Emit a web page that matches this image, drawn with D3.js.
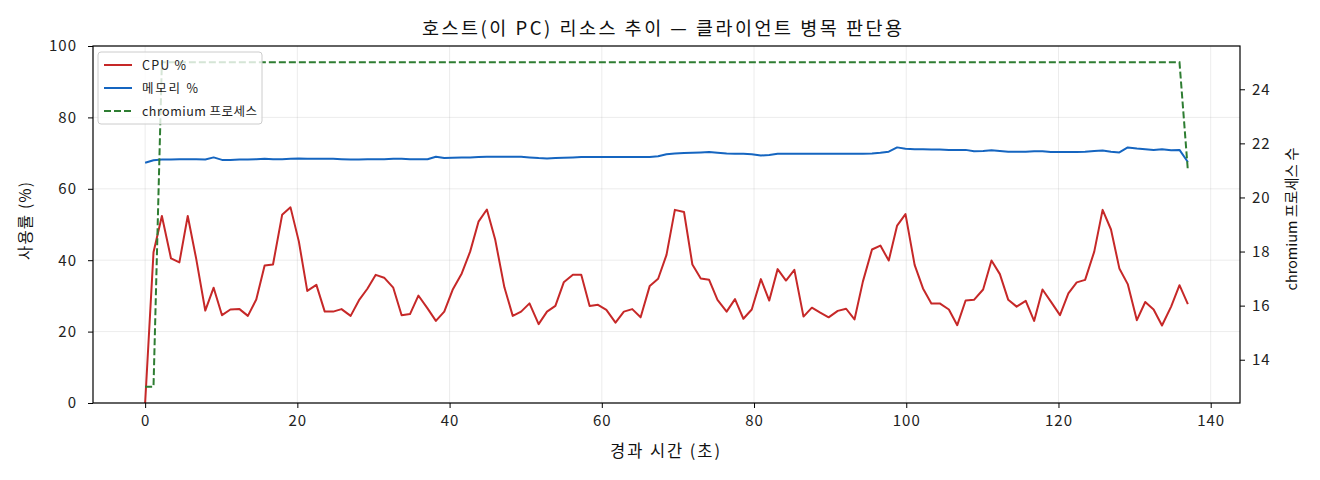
<!DOCTYPE html>
<html>
<head>
<meta charset="utf-8">
<script src="https://cdn.jsdelivr.net/npm/d3@7"></script>
<style>
  html, body { margin: 0; padding: 0; background: #fff; }
  svg { display: block; font-family: "Noto Sans CJK KR", "Noto Sans", sans-serif; }
</style>
</head>
<body>
<svg id="chart" width="1320" height="480"></svg>
<script>
// ---- data ----
const timeSec = [0,1.1,2.2,3.4,4.5,5.6,6.7,7.9,9.0,10.1,11.2,12.4,13.5,14.6,15.7,16.8,18.0,19.1,20.2,21.3,22.5,23.6,24.7,25.8,27.0,28.1,29.2,30.3,31.4,32.6,33.7,34.8,35.9,37.1,38.2,39.3,40.4,41.6,42.7,43.8,44.9,46.0,47.2,48.3,49.4,50.5,51.7,52.8,53.9,55.0,56.2,57.3,58.4,59.5,60.6,61.8,62.9,64.0,65.1,66.3,67.4,68.5,69.6,70.8,71.9,73.0,74.1,75.2,76.4,77.5,78.6,79.7,80.9,82.0,83.1,84.2,85.3,86.5,87.6,88.7,89.8,91.0,92.1,93.2,94.3,95.5,96.6,97.7,98.8,99.9,101.1,102.2,103.3,104.4,105.6,106.7,107.8,108.9,110.1,111.2,112.3,113.4,114.5,115.7,116.8,117.9,119.0,120.2,121.3,122.4,123.5,124.7,125.8,126.9,128.0,129.1,130.3,131.4,132.5,133.6,134.8,135.9,137.0];

const cpuPct = [
  0, 42.2, 52.4, 40.5, 39.4, 52.4, 40.5, 25.9, 32.3, 24.6,
  26.2, 26.3, 24.4, 29.0, 38.5, 38.8, 52.7, 54.8, 45.2, 31.4,
  33.1, 25.6, 25.6, 26.3, 24.4, 28.8, 32.0, 35.9, 35.1, 32.3,
  24.6, 24.9, 30.1, 26.5, 23.0, 25.6, 31.7, 36.3, 42.4, 50.8,
  54.2, 45.7, 32.4, 24.4, 25.6, 27.9, 22.1, 25.6, 27.2, 33.8,
  35.9, 35.9, 27.2, 27.5, 26.1, 22.5, 25.6, 26.3, 24.0, 32.8,
  34.8, 41.5, 54.1, 53.5, 38.8, 34.9, 34.5, 28.9, 25.6, 29.1,
  23.6, 26.2, 34.7, 28.7, 37.5, 34.3, 37.3, 24.2, 26.7, 25.3,
  24.0, 25.8, 26.4, 23.4, 34.0, 43.0, 44.1, 39.9, 49.7, 52.9,
  38.7, 32.1, 27.9, 27.9, 26.2, 21.8, 28.7, 28.9, 31.8, 39.9,
  36.1, 28.9, 27.0, 28.6, 23.0, 31.8, 28.4, 24.6, 30.7, 33.8,
  34.5, 42.4, 54.1, 48.6, 37.7, 33.3, 23.2, 28.3, 26.2, 21.7,
  27.0, 33.0, 27.7
];

const memPct = [
  67.3, 68.0, 68.2, 68.2, 68.3, 68.3, 68.3, 68.2, 68.8, 68.1,
  68.1, 68.2, 68.2, 68.3, 68.4, 68.3, 68.3, 68.4, 68.5, 68.4,
  68.4, 68.4, 68.4, 68.3, 68.2, 68.2, 68.3, 68.3, 68.3, 68.4,
  68.4, 68.3, 68.3, 68.3, 69.0, 68.6, 68.7, 68.8, 68.8, 68.9,
  69.0, 69.0, 69.0, 69.0, 69.0, 68.8, 68.6, 68.5, 68.6, 68.7,
  68.8, 68.9, 68.9, 68.9, 68.9, 68.9, 68.9, 68.9, 68.9, 68.9,
  69.1, 69.7, 69.9, 70.0, 70.1, 70.2, 70.3, 70.1, 69.9, 69.8,
  69.8, 69.7, 69.3, 69.5, 69.8, 69.8, 69.8, 69.8, 69.8, 69.8,
  69.8, 69.8, 69.8, 69.8, 69.8, 69.9, 70.1, 70.4, 71.6, 71.2,
  71.1, 71.1, 71.0, 71.0, 70.9, 70.9, 70.9, 70.5, 70.6, 70.8,
  70.6, 70.4, 70.4, 70.4, 70.5, 70.5, 70.3, 70.3, 70.3, 70.3,
  70.4, 70.6, 70.7, 70.4, 70.2, 71.6, 71.3, 71.1, 70.9, 71.1,
  70.8, 70.9, 67.5
];

const chromiumProcs = [
  13, 13, 25, 25, 25, 25, 25, 25, 25, 25,
  25, 25, 25, 25, 25, 25, 25, 25, 25, 25,
  25, 25, 25, 25, 25, 25, 25, 25, 25, 25,
  25, 25, 25, 25, 25, 25, 25, 25, 25, 25,
  25, 25, 25, 25, 25, 25, 25, 25, 25, 25,
  25, 25, 25, 25, 25, 25, 25, 25, 25, 25,
  25, 25, 25, 25, 25, 25, 25, 25, 25, 25,
  25, 25, 25, 25, 25, 25, 25, 25, 25, 25,
  25, 25, 25, 25, 25, 25, 25, 25, 25, 25,
  25, 25, 25, 25, 25, 25, 25, 25, 25, 25,
  25, 25, 25, 25, 25, 25, 25, 25, 25, 25,
  25, 25, 25, 25, 25, 25, 25, 25, 25, 25,
  25, 25, 21
];

const xTicks = [0, 20, 40, 60, 80, 100, 120, 140];
const yLeftTicks = [0, 20, 40, 60, 80, 100];
const yRightTicks = [14, 16, 18, 20, 22, 24];

const seriesNames = ["CPU %", "메모리 %", "chromium 프로세스"];
const titleText = "호스트(이 PC) 리소스 추이 — 클라이언트 병목 판단용";
const xLabelText = "경과 시간 (초)";
const yLeftLabelText = "사용률 (%)";
const yRightLabelText = "chromium 프로세스 수";

// ---- layout ----
const L = 93, R = 1240, T = 46, B = 403;
const svg = d3.select("#chart");

const x = d3.scaleLinear().domain([-6.85, 143.85]).range([L, R]);
const yL = d3.scaleLinear().domain([0, 100]).range([B, T]);
const yR = d3.scaleLinear().domain([12.4, 25.6]).range([B, T]);

const colCpu = "#c62828", colMem = "#1565c0", colChr = "#2e7d32";

// grid
const grid = svg.append("g");
grid.selectAll(".gx").data(xTicks).join("line")
  .attr("x1", d => x(d)).attr("x2", d => x(d)).attr("y1", T).attr("y2", B)
  .attr("stroke", "#b0b0b0").attr("stroke-opacity", 0.3).attr("stroke-width", 0.8);
grid.selectAll(".gy").data(yLeftTicks).join("line")
  .attr("x1", L).attr("x2", R).attr("y1", d => yL(d)).attr("y2", d => yL(d))
  .attr("stroke", "#b0b0b0").attr("stroke-opacity", 0.3).attr("stroke-width", 0.8);

// lines
const lineLeft = d3.line().x((d, i) => x(timeSec[i])).y(d => yL(d));
const lineRight = d3.line().x((d, i) => x(timeSec[i])).y(d => yR(d));

svg.append("path").datum(cpuPct).attr("d", lineLeft)
  .attr("fill", "none").attr("stroke", colCpu).attr("stroke-width", 2).attr("stroke-linejoin", "round");
svg.append("path").datum(memPct).attr("d", lineLeft)
  .attr("fill", "none").attr("stroke", colMem).attr("stroke-width", 2).attr("stroke-linejoin", "round");
svg.append("path").datum(chromiumProcs).attr("d", lineRight)
  .attr("fill", "none").attr("stroke", colChr).attr("stroke-width", 2).attr("stroke-dasharray", "7,3");

// axes
const tickFont = 15;
const ax = svg.append("g").attr("transform", `translate(0,${B})`)
  .call(d3.axisBottom(x).tickValues(xTicks).tickSize(5).tickPadding(5).tickFormat(d3.format("d")));
const ayL = svg.append("g").attr("transform", `translate(${L},0)`)
  .call(d3.axisLeft(yL).tickValues(yLeftTicks).tickSize(5).tickPadding(11).tickFormat(d3.format("d")));
const ayR = svg.append("g").attr("transform", `translate(${R},0)`)
  .call(d3.axisRight(yR).tickValues(yRightTicks).tickSize(5).tickPadding(7).tickFormat(d3.format("d")));
[ax, ayL, ayR].forEach(g => {
  g.select(".domain").remove();
  g.selectAll(".tick line").attr("stroke", "#000").attr("stroke-width", 1);
  g.selectAll(".tick text").attr("font-size", tickFont).attr("fill", "#222")
    .attr("letter-spacing", "1px")
    .attr("font-family", "'Noto Sans CJK KR', sans-serif");
});
ax.selectAll(".tick text").attr("dy", "0.85em");

// frame
svg.append("rect").attr("x", L).attr("y", T).attr("width", R - L).attr("height", B - T)
  .attr("fill", "none").attr("stroke", "#000").attr("stroke-width", 1.2);

// labels
svg.append("text").attr("x", 662).attr("y", 35).attr("text-anchor", "middle")
  .attr("font-size", 18.5).attr("fill", "#111")
  .attr("textLength", 480).attr("lengthAdjust", "spacing").text(titleText);
svg.append("text").attr("x", 665).attr("y", 457).attr("text-anchor", "middle")
  .attr("font-size", 16.5).attr("fill", "#111")
  .attr("textLength", 110).attr("lengthAdjust", "spacing").text(xLabelText);
svg.append("text").attr("transform", `translate(31,221) rotate(-90)`)
  .attr("text-anchor", "middle").attr("font-size", 15.5).attr("fill", "#111")
  .attr("textLength", 78).attr("lengthAdjust", "spacing").text(yLeftLabelText);
svg.append("text").attr("transform", `translate(1297,219) rotate(-90)`)
  .attr("text-anchor", "middle").attr("font-size", 14.5).attr("fill", "#111")
  .attr("textLength", 143).attr("lengthAdjust", "spacing").text(yRightLabelText);

// legend
const lg = svg.append("g");
lg.append("rect").attr("x", 98).attr("y", 52).attr("width", 164).attr("height", 72).attr("rx", 3)
  .attr("fill", "#fff").attr("fill-opacity", 0.8).attr("stroke", "#ccc").attr("stroke-width", 1);
const legendItems = [
  { name: seriesNames[0], color: colCpu, dash: null, w: 44 },
  { name: seriesNames[1], color: colMem, dash: null, w: 56 },
  { name: seriesNames[2], color: colChr, dash: "7,3", w: 115 }
];
legendItems.forEach((it, i) => {
  const cy = 65 + i * 23;
  lg.append("line").attr("x1", 104).attr("x2", 132).attr("y1", cy).attr("y2", cy)
    .attr("stroke", it.color).attr("stroke-width", 2).attr("stroke-dasharray", it.dash);
  lg.append("text").attr("x", 142).attr("y", cy).attr("dy", "0.36em")
    .attr("font-size", 12.5).attr("fill", "#222")
    .attr("textLength", it.w).attr("lengthAdjust", "spacing").text(it.name);
});
</script>
</body>
</html>
